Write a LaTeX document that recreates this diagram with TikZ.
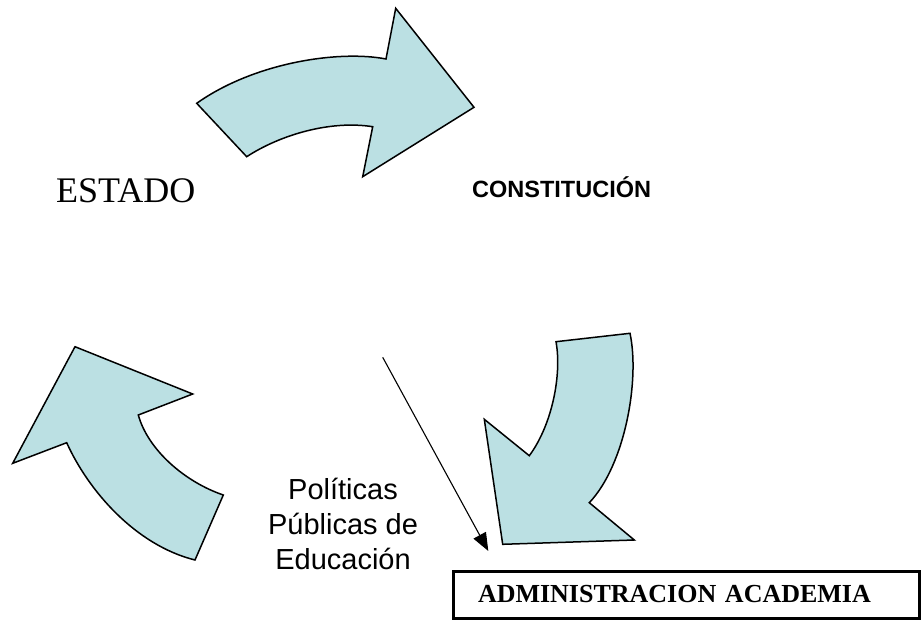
\documentclass[tikz,border=0pt]{standalone}
\usepackage{fontspec}
\setmainfont{Liberation Sans}
\newfontfamily\timesfont{Liberation Serif}
\usetikzlibrary{arrows.meta}
\definecolor{flecha}{RGB}{187,224,227}

\begin{document}
\begin{tikzpicture}[x=1pt,y=-1pt,
                    bigarrow/.style={fill=flecha, draw=black, line width=1.5pt, line join=miter},
                    pointer/.style={-{Triangle[length=18pt,width=14pt]}, line width=1.1pt}]
                    \useasboundingbox (0,0) rectangle (923,620);
                    \path[bigarrow] (196.7,103.3) -- (246.7,156.7)
                        .. controls (280,135) and (330,120) .. (372.7,126.7)
                        -- (362.7,176.7) -- (474,107.3) -- (395.7,8.3) -- (386,59)
                        .. controls (340,50) and (255,62) .. cycle;
                    \path[bigarrow] (556,341.7) -- (630,333.3)
                        .. controls (640,380) and (625,465) .. (589.3,502.7)
                        -- (634.3,540) -- (502.7,544.3) -- (484.3,419.3) -- (529.3,455.7)
                        .. controls (552,425) and (562,375) .. cycle;
                    \path[bigarrow] (75,346.7) -- (192.7,394) -- (138.3,415)
                        .. controls (148,450) and (185,482) .. (223.3,495)
                        -- (195,560)
                        .. controls (135,545) and (88,490) .. (66.7,442.7)
                        -- (12.7,463.3) -- cycle;
                    \node (estado) [anchor=base west, inner sep=0,
                        font=\timesfont\fontsize{36}{42}\selectfont] at (56,202.7) {ESTADO};
                    \node (constitucion) [anchor=base west, inner sep=0,
                        font=\fontsize{23.5}{28}\selectfont\bfseries] at (472,197.7) {CONSTITUCIÓN};
                    \node (politicas) [align=center, inner sep=0,
                        font=\fontsize{29}{35}\selectfont] at (343,524)
                        {Políticas\\Públicas de\\Educación};
                    \node (admin) [draw, line width=3pt, inner xsep=25pt, inner ysep=0,
                        text width=416pt, minimum height=47pt, align=left,
                        font=\timesfont\fontsize{26}{30}\selectfont\bfseries] at (686,594.5)
                        {ADMINISTRACION ACADEMIA};
                    \coordinate (pstart) at (382.7,357.3);
                    \coordinate (pend) at (488.3,551);
                    \path[pointer] (pstart) edge (pend);
                \end{tikzpicture}
\end{document}
